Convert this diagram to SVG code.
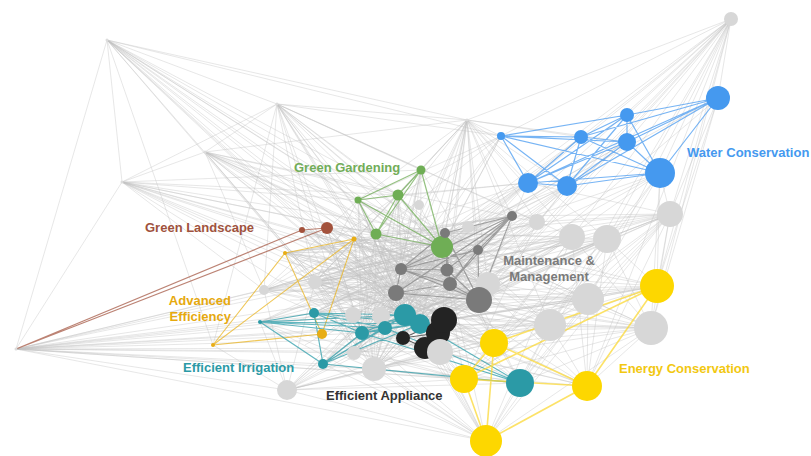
<svg xmlns="http://www.w3.org/2000/svg" width="811" height="456" viewBox="0 0 811 456">
<style>
.e{fill:none;stroke:#c2c2c2;stroke-opacity:.5;stroke-width:.8}
.c{fill:none;stroke-width:1.2;stroke-opacity:.75;stroke-linecap:round}
.eb{stroke:#4a9bf0}
.eg{stroke:#72ad58}
.ew{stroke:#a65a45}
.ea{stroke:#e9b421;stroke-width:1.1}
.et{stroke:#2e9ea9}
.ek{stroke:#333}
.em{stroke:#888;stroke-width:1.2}
.ey{stroke:#fbd835;stroke-width:1.6}
.hub{fill:#dcdcdc}
.lg{fill:#d7d7d7}
.bl{fill:#4599ef}
.gr{fill:#6fae55}
.br{fill:#a3523c}
.ad{fill:#e8ad15}
.mg{fill:#7a7a7a}
.tl{fill:#2b9aa6}
.bk{fill:#232323}
.ye{fill:#fdd700}
.lb{font-family:"Liberation Sans",Arial,sans-serif;font-weight:bold;font-size:13px}
</style>
<rect width="811" height="456" fill="#fff"/>
<g id="connectors">
<path class="e" d="M107 40L16 349M107 40L122 182M107 40L277 104M107 40L467 120M107 40L501 136M107 40L213 345M107 40L396 293M107 40L442 247M107 40L401 269M107 40L358 200M107 40L479 300M107 40L362 333M107 40L420 324M107 40L376 234M107 40L445 233M107 40L354 239M107 40L315 282M107 40L405 315M107 40L488 284M107 40L398 195M107 40L440 352"/>
<path class="e" d="M277 104L205 152M277 104L467 120M277 104L122 182M277 104L213 345M277 104L358 200M277 104L398 195M277 104L421 170M277 104L442 247M277 104L401 269M277 104L396 293M277 104L445 233M277 104L479 300M277 104L405 315M277 104L362 333M277 104L315 282M277 104L376 234M277 104L537 222M277 104L572 237M277 104L488 284M277 104L420 324M277 104L264 290M277 104L354 353M277 104L501 136"/>
<path class="e" d="M205 152L122 182M205 152L358 200M205 152L398 195M205 152L442 247M205 152L401 269M205 152L396 293M205 152L479 300M205 152L445 233M205 152L420 324M205 152L376 234M205 152L315 282M205 152L264 290M205 152L405 315M205 152L362 333M205 152L488 284M205 152L447 270M205 152L467 120M205 152L537 222"/>
<path class="e" d="M122 182L16 349M122 182L358 200M122 182L398 195M122 182L442 247M122 182L401 269M122 182L396 293M122 182L376 234M122 182L445 233M122 182L315 282M122 182L405 315M122 182L479 300M122 182L362 333M122 182L488 284M122 182L447 270M122 182L421 170M122 182L264 290M122 182L285 253"/>
<path class="e" d="M16 349L260 322M16 349L314 313M16 349L287 390M16 349L362 333M16 349L374 369M16 349L520 383M16 349L486 441M16 349L396 293M16 349L405 315M16 349L354 353M16 349L264 290M16 349L315 282M16 349L323 364M16 349L401 269M16 349L420 324M16 349L440 352M16 349L385 328M16 349L403 338M16 349L442 247M16 349L353 315M16 349L425 348M16 349L464 379"/>
<path class="e" d="M467 120L731 19M467 120L501 136M467 120L581 137M467 120L528 183M467 120L567 186M467 120L358 200M467 120L398 195M467 120L421 170M467 120L442 247M467 120L445 233M467 120L401 269M467 120L396 293M467 120L479 300M467 120L512 216M467 120L537 222M467 120L572 237M467 120L607 239M467 120L478 250M467 120L488 284M467 120L447 270M467 120L405 315M467 120L420 324M467 120L550 325M467 120L376 234M467 120L315 282M467 120L627 142M467 120L362 333M467 120L444 320"/>
<path class="e" d="M731 19L718 98M731 19L660 173M731 19L670 214M731 19L627 115M731 19L627 142M731 19L657 286M731 19L651 328M731 19L607 239M731 19L572 237M731 19L588 299M731 19L550 325M731 19L537 222M731 19L512 216M731 19L479 300M731 19L445 233M731 19L501 136M731 19L581 137M731 19L528 183M731 19L567 186M731 19L488 284M731 19L587 386"/>
<path class="e" d="M670 214L445 233M670 214L479 300M670 214L442 247M670 214L401 269M670 214L396 293M670 214L488 284M670 214L550 325M670 214L588 299M670 214L651 328M670 214L657 286M670 214L494 343M670 214L587 386M670 214L405 315M670 214L420 324M670 214L447 270M670 214L512 216M670 214L537 222M670 214L464 379M670 214L520 383M670 214L486 441M670 214L362 333M670 214L660 173M670 214L528 183"/>
<path class="e" d="M607 239L445 233M607 239L479 300M607 239L442 247M607 239L401 269M607 239L396 293M607 239L488 284M607 239L405 315M607 239L420 324M607 239L444 320M607 239L464 379M607 239L494 343M607 239L486 441M607 239L587 386M607 239L651 328M607 239L657 286M607 239L362 333M607 239L315 282M607 239L354 353M607 239L550 325"/>
<path class="e" d="M572 237L445 233M572 237L479 300M572 237L442 247M572 237L401 269M572 237L396 293M572 237L405 315M572 237L420 324M572 237L447 270M572 237L464 379M572 237L486 441M572 237L494 343M572 237L587 386M572 237L362 333M572 237L385 328M572 237L315 282M572 237L651 328M572 237L374 369"/>
<path class="e" d="M588 299L445 233M588 299L479 300M588 299L442 247M588 299L401 269M588 299L396 293M588 299L405 315M588 299L420 324M588 299L444 320M588 299L464 379M588 299L486 441M588 299L374 369M588 299L362 333M588 299L587 386M588 299L520 383M588 299L651 328M588 299L657 286M588 299L354 353M588 299L315 282M588 299L287 390"/>
<path class="e" d="M550 325L442 247M550 325L401 269M550 325L396 293M550 325L405 315M550 325L420 324M550 325L464 379M550 325L486 441M550 325L362 333M550 325L374 369M550 325L287 390M550 325L520 383M550 325L587 386M550 325L651 328M550 325L354 353M550 325L315 282M550 325L445 233"/>
<path class="e" d="M651 328L479 300M651 328L442 247M651 328L401 269M651 328L396 293M651 328L405 315M651 328L420 324M651 328L464 379M651 328L486 441M651 328L520 383M651 328L494 343M651 328L587 386M651 328L374 369M651 328L362 333M651 328L445 233M537 222L442 247M537 222L401 269M537 222L396 293M537 222L405 315M537 222L362 333M537 222L445 233M537 222L315 282M537 222L374 369M537 222L464 379"/>
<path class="e" d="M528 183L442 247M528 183L445 233M528 183L401 269M528 183L396 293M528 183L479 300M528 183L405 315M528 183L362 333M528 183L315 282M528 183L376 234M528 183L358 200M528 183L398 195M567 186L442 247M567 186L445 233M567 186L401 269M567 186L396 293M567 186L479 300M567 186L405 315M567 186L420 324M567 186L488 284M567 186L362 333M660 173L442 247M660 173L479 300M660 173L396 293M660 173L405 315M660 173L588 299M660 173L550 325M660 173L651 328M660 173L657 286M660 173L607 239M501 136L358 200M501 136L398 195M501 136L442 247M501 136L401 269M501 136L396 293M501 136L405 315M501 136L376 234M581 137L442 247M581 137L401 269M581 137L396 293M627 142L442 247M627 142L479 300M627 142L401 269M627 142L405 315M718 98L479 300M718 98L442 247M718 98L657 286M718 98L651 328M718 98L670 214"/>
<path class="e" d="M494 343L396 293M494 343L401 269M494 343L405 315M494 343L362 333M494 343L442 247M494 343L445 233M494 343L315 282M494 343L374 369M494 343L287 390M464 379L396 293M464 379L401 269M464 379L405 315M464 379L362 333M464 379L374 369M464 379L287 390M464 379L442 247M464 379L354 353M464 379L323 364M464 379L315 282M464 379L260 322M486 441L287 390M486 441L374 369M486 441L362 333M486 441L405 315M486 441L396 293M486 441L401 269M486 441L442 247M486 441L323 364M486 441L354 353M486 441L314 313M486 441L440 352M486 441L420 324M486 441L260 322"/>
<path class="e" d="M587 386L396 293M587 386L405 315M587 386L362 333M587 386L374 369M587 386L442 247M587 386L401 269M587 386L440 352M587 386L420 324M657 286L396 293M657 286L401 269M657 286L405 315M657 286L442 247M657 286L445 233M657 286L479 300M657 286L420 324M657 286L362 333M657 286L374 369M657 286L550 325M657 286L588 299M520 383L396 293M520 383L401 269M520 383L442 247M520 383L445 233M520 383L374 369M520 383L287 390M520 383L354 353M520 383L315 282M287 390L396 293M287 390L401 269M287 390L405 315M287 390L362 333M287 390L374 369M287 390L442 247M287 390L420 324M287 390L354 353M287 390L315 282M287 390L264 290M287 390L440 352M287 390L260 322M287 390L213 345"/>
<path class="e" d="M396 293L442 247M396 293L445 233M396 293L479 300M396 293L405 315M396 293L362 333M396 293L315 282M396 293L264 290M396 293L354 239M396 293L285 253M396 293L376 234M396 293L358 200M396 293L398 195M396 293L421 170M396 293L512 216M396 293L488 284M396 293L374 369M396 293L354 353M401 269L442 247M401 269L445 233M401 269L479 300M401 269L405 315M401 269L362 333M401 269L315 282M401 269L264 290M401 269L358 200M401 269L398 195M401 269L421 170M401 269L376 234M401 269L488 284M401 269L420 324M401 269L374 369M401 269L285 253M401 269L354 239M401 269L302 230M401 269L327 228M401 269L260 322M401 269L314 313M401 269L323 364"/>
<path class="e" d="M442 247L405 315M442 247L362 333M442 247L315 282M442 247L264 290M442 247L358 200M442 247L420 324M442 247L444 320M442 247L374 369M442 247L354 353M442 247L285 253M442 247L354 239M442 247L327 228M442 247L302 230M442 247L260 322M442 247L314 313M442 247L323 364M442 247L488 284M442 247L419 205M442 247L468 227M445 233L405 315M445 233L362 333M445 233L315 282M445 233L264 290M445 233L420 324M445 233L374 369M445 233L354 353M445 233L285 253M445 233L376 234M445 233L358 200M445 233L327 228"/>
<path class="e" d="M479 300L405 315M479 300L362 333M479 300L315 282M479 300L264 290M479 300L420 324M479 300L374 369M479 300L354 353M479 300L376 234M479 300L358 200M479 300L398 195M479 300L285 253M479 300L327 228M479 300L260 322M479 300L314 313M405 315L362 333M405 315L315 282M405 315L264 290M405 315L376 234M405 315L358 200M405 315L398 195M405 315L285 253M405 315L354 239M405 315L327 228M405 315L302 230M405 315L260 322M405 315L374 369M405 315L512 216M405 315L488 284"/>
<path class="e" d="M362 333L315 282M362 333L264 290M362 333L376 234M362 333L358 200M362 333L398 195M362 333L285 253M362 333L354 239M362 333L488 284M362 333L447 270M362 333L450 284M362 333L512 216M315 282L376 234M315 282L358 200M315 282L398 195M315 282L488 284M315 282L447 270M315 282L420 324M315 282L374 369M315 282L354 353M315 282L421 170M264 290L376 234M264 290L358 200M264 290L398 195M264 290L488 284M264 290L447 270M264 290L420 324M264 290L445 233"/>
<path class="e" d="M376 234L488 284M376 234L447 270M376 234L420 324M376 234L374 369M376 234L354 353M376 234L450 284M376 234L512 216M358 200L488 284M358 200L447 270M358 200L420 324M358 200L374 369M358 200L405 315M398 195L488 284M398 195L447 270M398 195L420 324M398 195L374 369M398 195L354 353M421 170L488 284M421 170L405 315M421 170L362 333M421 170L420 324M421 170L374 369M354 239L488 284M354 239L447 270M354 239L420 324M354 239L374 369M354 239L512 216M354 239L478 250"/>
<path class="e" d="M285 253L488 284M285 253L447 270M285 253L420 324M285 253L374 369M285 253L445 233M285 253L478 250M285 253L512 216M327 228L488 284M327 228L447 270M327 228L420 324M327 228L374 369M327 228L362 333M302 230L488 284M302 230L447 270M302 230L420 324M302 230L374 369M260 322L488 284M260 322L447 270M260 322L374 369M260 322L445 233M314 313L488 284M314 313L447 270M314 313L445 233M314 313L512 216M323 364L488 284M323 364L447 270M323 364L445 233M323 364L512 216M323 364L405 315"/>
<path class="e" d="M354 353L488 284M354 353L447 270M354 353L512 216M354 353L478 250M374 369L488 284M374 369L447 270M374 369L512 216M374 369L478 250M374 369L450 284M420 324L488 284M420 324L512 216M420 324L478 250M512 216L264 290M512 216L285 253M512 216L315 282M478 250L315 282M478 250L264 290M478 250L362 333M478 250L405 315M330 250L470 330M300 300L460 260M340 270L490 320M320 260L470 250M300 270L450 340M350 250L430 360M280 280L480 330M330 300L500 270M360 240L400 350M290 300L440 300"/>
<path class="e" d="M300 240L500 300M310 250L490 240M320 300L510 260M290 270L470 350M330 230L450 350M350 230L420 360M300 320L500 240M280 260L520 320M320 240L480 340M340 300L520 290M360 250L500 360M310 290L460 230M300 280L510 330M330 320L470 240M290 240L450 320M370 230L460 340M320 270L500 250M350 340L510 280M300 260L480 280M330 280L490 350M290 310L480 260M360 300L520 250M340 240L440 360M310 330L500 290M380 240L510 340M300 300L470 230M330 260L460 360M350 270L520 310M320 340L480 230M290 290L500 320M305 235L515 275M315 265L505 305M345 225L495 335M285 285L495 235M335 345L485 245M365 225L435 345M295 255L475 315M355 215L465 335M325 305L515 235M305 345L455 255"/>
<path class="c ew" d="M16 349L302 230M16 349L327 228M302 230L327 228"/>
<path class="c ea" d="M285 253L354 239M285 253L213 345M285 253L322 334M354 239L213 345M354 239L322 334M213 345L322 334"/>
<path class="c eg" d="M358 200L421 170M358 200L398 195M358 200L376 234M358 200L442 247M421 170L398 195M421 170L376 234M421 170L442 247M398 195L376 234M398 195L442 247M376 234L442 247"/>
<path class="c eb" d="M501 136L581 137M501 136L627 115M501 136L627 142M501 136L660 173M501 136L528 183M501 136L567 186M581 137L627 115M581 137L627 142M581 137L660 173M581 137L528 183M581 137L567 186M627 115L627 142M627 115L718 98M627 115L660 173M627 115L528 183M627 115L567 186M627 142L718 98M627 142L660 173M627 142L528 183M627 142L567 186M718 98L660 173M718 98L528 183M718 98L567 186M718 98L581 137M660 173L528 183M660 173L567 186M528 183L567 186"/>
<path class="c em" d="M512 216L445 233M512 216L478 250M512 216L401 269M512 216L447 270M512 216L450 284M512 216L396 293M512 216L479 300M445 233L401 269M445 233L447 270M445 233L450 284M478 250L401 269M478 250L479 300M478 250L450 284M401 269L450 284M401 269L396 293M401 269L479 300M401 269L447 270M447 270L479 300M450 284L479 300M396 293L479 300M396 293L450 284M445 233L479 300"/>
<path class="c et" d="M260 322L314 313M260 322L323 364M260 322L362 333M260 322L385 328M260 322L405 315M260 322L420 324M314 313L323 364M314 313L362 333M314 313L385 328M314 313L405 315M314 313L420 324M323 364L362 333M323 364L385 328M323 364L405 315M323 364L420 324M362 333L385 328M362 333L405 315M362 333L420 324M385 328L405 315M385 328L420 324M405 315L420 324M362 333L520 383M385 328L520 383M405 315L520 383M420 324L520 383M323 364L520 383"/>
<path class="c ek" d="M403 338L438 333M403 338L444 320M403 338L425 348M425 348L444 320M438 333L444 320"/>
<path class="c ey" d="M494 343L657 286M464 379L657 286M494 343L587 386M464 379L587 386M464 379L486 441M494 343L486 441M486 441L587 386M587 386L657 286M464 379L494 343"/>
</g>
<g id="n-hubA"><circle class="hub" cx="107" cy="40" r="1.5"/></g>
<g id="n-hubB"><circle class="hub" cx="277" cy="104" r="1.5"/></g>
<g id="n-hubC"><circle class="hub" cx="205" cy="152" r="1.5"/></g>
<g id="n-hubD"><circle class="hub" cx="122" cy="182" r="1.5"/></g>
<g id="n-hubE"><circle class="hub" cx="467" cy="120" r="1.5"/></g>
<g id="n-hubF"><circle class="hub" cx="16" cy="349" r="1.5"/></g>
<g id="n-g1"><circle class="lg" cx="731" cy="19" r="7"/></g>
<g id="n-g2"><circle class="lg" cx="670" cy="214" r="13"/></g>
<g id="n-g3"><circle class="lg" cx="537" cy="222" r="8"/></g>
<g id="n-g4"><circle class="lg" cx="572" cy="237" r="13"/></g>
<g id="n-g5"><circle class="lg" cx="607" cy="239" r="14"/></g>
<g id="n-g6"><circle class="lg" cx="588" cy="299" r="16"/></g>
<g id="n-g7"><circle class="lg" cx="550" cy="325" r="16"/></g>
<g id="n-g8"><circle class="lg" cx="651" cy="328" r="17"/></g>
<g id="n-g9"><circle class="lg" cx="488" cy="284" r="12"/></g>
<g id="n-g10"><circle class="lg" cx="374" cy="369" r="12"/></g>
<g id="n-g11"><circle class="lg" cx="287" cy="390" r="10"/></g>
<g id="n-g12"><circle class="lg" cx="354" cy="353" r="7"/></g>
<g id="n-g13"><circle class="lg" cx="419" cy="205" r="5"/></g>
<g id="n-g14"><circle class="lg" cx="468" cy="227" r="6"/></g>
<g id="n-g15"><circle class="lg" cx="264" cy="290" r="5"/></g>
<g id="n-g16"><circle class="lg" cx="315" cy="282" r="7"/></g>
<g id="n-g17"><circle class="lg" cx="353" cy="315" r="8"/></g>
<g id="n-g18"><circle class="lg" cx="381" cy="316" r="9"/></g>
<g id="n-b1"><circle class="bl" cx="501" cy="136" r="4"/></g>
<g id="n-b2"><circle class="bl" cx="581" cy="137" r="7"/></g>
<g id="n-b3"><circle class="bl" cx="627" cy="115" r="7"/></g>
<g id="n-b4"><circle class="bl" cx="627" cy="142" r="9"/></g>
<g id="n-b5"><circle class="bl" cx="718" cy="98" r="12"/></g>
<g id="n-b6"><circle class="bl" cx="660" cy="173" r="15"/></g>
<g id="n-b7"><circle class="bl" cx="528" cy="183" r="10"/></g>
<g id="n-b8"><circle class="bl" cx="567" cy="186" r="10"/></g>
<g id="n-gr1"><circle class="gr" cx="421" cy="170" r="4.5"/></g>
<g id="n-gr2"><circle class="gr" cx="398" cy="195" r="5.5"/></g>
<g id="n-gr3"><circle class="gr" cx="358" cy="200" r="3.5"/></g>
<g id="n-gr4"><circle class="gr" cx="376" cy="234" r="5.5"/></g>
<g id="n-gr5"><circle class="gr" cx="442" cy="247" r="11"/></g>
<g id="n-w1"><circle class="br" cx="302" cy="230" r="3"/></g>
<g id="n-w2"><circle class="br" cx="327" cy="228" r="6"/></g>
<g id="n-a1"><circle class="ad" cx="285" cy="253" r="2"/></g>
<g id="n-a2"><circle class="ad" cx="354" cy="239" r="2.5"/></g>
<g id="n-a3"><circle class="ad" cx="213" cy="345" r="2"/></g>
<g id="n-a4"><circle class="ad" cx="322" cy="334" r="5"/></g>
<g id="n-m1"><circle class="mg" cx="512" cy="216" r="5"/></g>
<g id="n-m2"><circle class="mg" cx="445" cy="233" r="5"/></g>
<g id="n-m3"><circle class="mg" cx="478" cy="250" r="5"/></g>
<g id="n-m4"><circle class="mg" cx="401" cy="269" r="6"/></g>
<g id="n-m5"><circle class="mg" cx="447" cy="270" r="6.5"/></g>
<g id="n-m6"><circle class="mg" cx="450" cy="284" r="7"/></g>
<g id="n-m7"><circle class="mg" cx="396" cy="293" r="8"/></g>
<g id="n-m8"><circle class="mg" cx="479" cy="300" r="13"/></g>
<g id="n-t1"><circle class="tl" cx="260" cy="322" r="2"/></g>
<g id="n-t2"><circle class="tl" cx="314" cy="313" r="5"/></g>
<g id="n-t3"><circle class="tl" cx="323" cy="364" r="5"/></g>
<g id="n-t4"><circle class="tl" cx="362" cy="333" r="7"/></g>
<g id="n-t5"><circle class="tl" cx="385" cy="328" r="7"/></g>
<g id="n-t6"><circle class="tl" cx="405" cy="315" r="11"/></g>
<g id="n-t7"><circle class="tl" cx="420" cy="324" r="10"/></g>
<g id="n-t8"><circle class="tl" cx="520" cy="383" r="14"/></g>
<g id="n-k4"><circle class="bk" cx="403" cy="338" r="7"/></g>
<g id="n-k3"><circle class="bk" cx="425" cy="348" r="11"/></g>
<g id="n-k2"><circle class="bk" cx="438" cy="333" r="12"/></g>
<g id="n-k1"><circle class="bk" cx="444" cy="320" r="13"/></g>
<g id="n-g19"><circle class="lg" cx="440" cy="352" r="13"/></g>
<g id="n-e1"><circle class="ye" cx="494" cy="343" r="14"/></g>
<g id="n-e2"><circle class="ye" cx="464" cy="379" r="14"/></g>
<g id="n-e3"><circle class="ye" cx="587" cy="386" r="15"/></g>
<g id="n-e4"><circle class="ye" cx="657" cy="286" r="17"/></g>
<g id="n-e5"><circle class="ye" cx="486" cy="441" r="16"/></g>
<g id="labels">
<text class="lb" x="294" y="172" fill="#72ad58">Green Gardening</text>
<text class="lb" x="145" y="232" fill="#a0523d">Green Landscape</text>
<text class="lb" x="687" y="157" fill="#4599ef">Water Conservation</text>
<text class="lb" x="549" y="265" fill="#7a7a7a" text-anchor="middle">Maintenance &amp;</text>
<text class="lb" x="549" y="281" fill="#7a7a7a" text-anchor="middle">Management</text>
<text class="lb" x="231" y="305" fill="#e6a90e" text-anchor="end">Advanced</text>
<text class="lb" x="231" y="321" fill="#e6a90e" text-anchor="end">Efficiency</text>
<text class="lb" x="183" y="372" fill="#2b9aa6">Efficient Irrigation</text>
<text class="lb" x="326" y="400" fill="#333333">Efficient Appliance</text>
<text class="lb" x="619" y="373" fill="#f2c811">Energy Conservation</text>
</g>
</svg>
